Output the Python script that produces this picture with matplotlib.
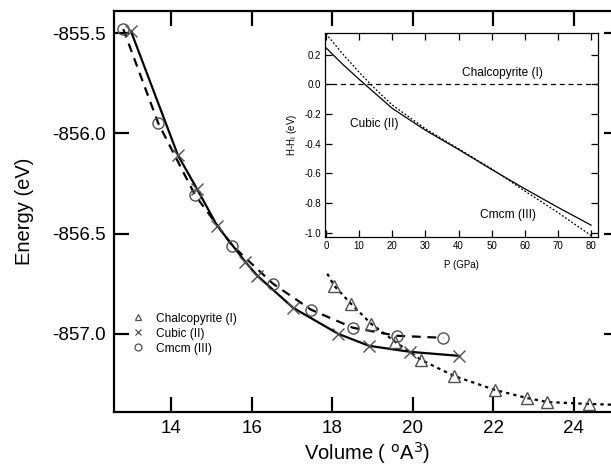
import matplotlib
matplotlib.use("Agg")
import matplotlib.pyplot as plt
from matplotlib.lines import Line2D

plt.rcParams['font.family'] = ['Liberation Sans', 'DejaVu Sans']
plt.rcParams['axes.unicode_minus'] = False

# ---- main data (Volume in A^3, Energy in eV) ----
cubic_v = [13.00, 14.17, 14.65, 15.14, 15.84, 16.14, 17.03, 18.15, 18.92, 19.94, 21.16]
cubic_e = [-855.49, -856.11, -856.28, -856.46, -856.64, -856.71, -856.87, -857.00, -857.06, -857.09, -857.11]

cmcm_v = [12.81, 13.68, 14.60, 15.52, 16.53, 17.48, 18.52, 19.62, 20.76]
cmcm_e = [-855.48, -855.95, -856.31, -856.56, -856.75, -856.88, -856.97, -857.01, -857.02]

chalco_v = [18.05, 18.47, 18.97, 19.57, 20.21, 21.03, 22.05, 22.84, 23.34, 24.39]
chalco_e = [-856.76, -856.85, -856.95, -857.04, -857.13, -857.21, -857.28, -857.32, -857.34, -857.35]

chalco_line_v = [17.88, 18.05, 18.47, 18.97, 19.57, 20.21, 21.03, 22.05, 22.84, 23.34, 24.39, 25.2]
chalco_line_e = [-856.70, -856.76, -856.85, -856.95, -857.04, -857.13, -857.21, -857.28, -857.32, -857.34, -857.35, -857.355]

legend_labels = ['Chalcopyrite (I)', 'Cubic (II)', 'Cmcm (III)']

# ---- inset data (P in GPa, H - H_I in eV) ----
p_vals = [0, 5, 10, 15, 20, 30, 40, 50, 60, 70, 80]
h_cubic = [0.245, 0.135, 0.033, -0.065, -0.163, -0.31, -0.44, -0.575, -0.705, -0.83, -0.95]
h_cmcm = [0.34, 0.205, 0.08, -0.035, -0.14, -0.30, -0.435, -0.57, -0.72, -0.865, -1.02]
h_chalco_p = [-1, 83]
h_chalco = [0.0, 0.0]

main_xticks = [14, 16, 18, 20, 22, 24]
main_yticks = [-857.0, -856.5, -856.0, -855.5]
inset_xticks = [0, 10, 20, 30, 40, 50, 60, 70, 80]
inset_yticks = [-1.0, -0.8, -0.6, -0.4, -0.2, 0.0, 0.2]

W, H = 611, 474
fig = plt.figure(figsize=(W / 100, H / 100), dpi=100)

def rect(l, t, r, b):
    return [l / W, 1 - b / H, (r - l) / W, (b - t) / H]

ax = fig.add_axes(rect(114, 11, 619, 412))
mc = '#505050'
ax.plot(cubic_v, cubic_e, '-', color='black', lw=1.6, marker='x', ms=9, mew=1.0,
        mec=mc, zorder=3)
ax.plot(cmcm_v, cmcm_e, color='black', lw=1.6, ls=(0, (4, 3)), zorder=2)
ax.plot(cmcm_v, cmcm_e, 'none', marker='o', ms=8, mfc='none', mec=mc, mew=1.0, zorder=4)
ax.plot(chalco_line_v, chalco_line_e, color='black', lw=1.6, ls=(0, (1.5, 1.8)), zorder=2)
ax.plot(chalco_v, chalco_e, 'none', marker='^', ms=9, mfc='none', mec=mc, mew=1.0, zorder=4)

ax.set_xlim(12.58, 25.13)
ax.set_ylim(-857.39, -855.39)
ax.set_xticks(main_xticks)
ax.set_yticks(main_yticks)
ax.set_yticklabels([f'{v:.1f}' for v in main_yticks])
ax.tick_params(direction='in', length=11, width=1.6, labelsize=13.5, pad=6,
               top=True, right=True)
for s in ax.spines.values():
    s.set_linewidth(1.6)
ax.set_xlabel('Volume ( $^{\\mathrm{o}}$A$^{3}$)', fontsize=14.5, labelpad=2)
ax.set_ylabel('Energy (eV)', fontsize=14.5, labelpad=13)

handles = [
    Line2D([], [], ls='none', marker='^', ms=5, mfc='none', mec=mc, mew=0.9),
    Line2D([], [], ls='none', marker='x', ms=5, mec=mc, mew=0.9),
    Line2D([], [], ls='none', marker='o', ms=5, mfc='none', mec=mc, mew=0.9),
]
ax.legend(handles, legend_labels, loc='upper left', bbox_to_anchor=(0.0356, 0.248),
          frameon=False, fontsize=8.6, handlelength=1.0, handletextpad=1.0,
          labelspacing=0.25, borderpad=0, borderaxespad=0)

# ---- inset ----
ins = fig.add_axes(rect(325, 33, 598, 237))
ins.plot(h_chalco_p, h_chalco, color='black', lw=0.9, ls=(0, (4, 3)))
ins.plot(p_vals, h_cubic, color='black', lw=0.9)
ins.plot(p_vals, h_cmcm, color='black', lw=0.9, ls=(0, (1.5, 1.5)))
ins.set_xlim(-0.3, 82.1)
ins.set_ylim(-1.03, 0.345)
ins.set_xticks(inset_xticks)
ins.set_yticks(inset_yticks)
ins.set_yticklabels([f'{v:.1f}' for v in inset_yticks])
ins.tick_params(direction='in', length=5, width=0.9, labelsize=7, pad=3,
                top=True, right=True)
for s in ins.spines.values():
    s.set_linewidth(0.9)
ins.set_xlabel('P (GPa)', fontsize=7, labelpad=6)
ins.set_ylabel('H-H$_{\\mathrm{I}}$ (eV)', fontsize=7, labelpad=4)
ins.text(53.2, 0.076, 'Chalcopyrite (I)', fontsize=8.6, ha='center', va='center')
ins.text(14.5, -0.27, 'Cubic (II)', fontsize=8.6, ha='center', va='center')
ins.text(55, -0.88, 'Cmcm (III)', fontsize=8.6, ha='center', va='center')

fig.savefig('out.png', dpi=100)
